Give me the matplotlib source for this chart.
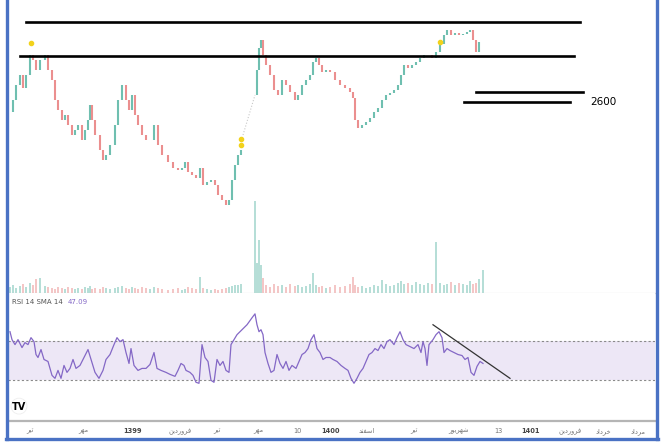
import matplotlib.pyplot as plt
from matplotlib.lines import Line2D
from matplotlib.patches import Circle

# time positions of the candles (chart time units) and closing prices
days_a = [10, 13, 16, 20, 23, 26, 30, 33, 36, 40, 45, 48, 52, 55, 58, 62, 65, 68, 72, 75,
          78, 82, 85, 88, 90, 92, 95, 100, 103, 106, 110, 115, 118, 122, 126, 129, 132, 135, 138, 142,
          146, 150, 154, 158, 162, 168, 173, 178, 182, 185, 188, 192, 196, 200, 203, 207, 211, 215, 218, 222,
          226, 229, 232, 235, 238, 241]
close_a = [2500, 2620, 2770, 2870, 2740, 2870, 3070, 3020, 2920, 3020, 3070, 2920, 2820, 2620, 2520, 2420, 2470, 2370, 2270, 2320,
           2370, 2220, 2320, 2420, 2570, 2420, 2270, 2120, 2020, 2070, 2170, 2370, 2620, 2770, 2620, 2520, 2670, 2470, 2370, 2270,
           2220, 2220, 2370, 2170, 2070, 2000, 1940, 1920, 1940, 2000, 1900, 1870, 1840, 1940, 1770, 1800, 1820, 1770, 1670, 1620,
           1570, 1620, 1820, 1970, 2070, 2120]
vol_a = [6, 8, 5, 7, 9, 6, 10, 8, 14, 15, 7, 6, 5, 4, 6, 5, 4, 6, 5, 4,
         5, 4, 6, 5, 7, 4, 5, 4, 6, 5, 4, 5, 6, 7, 5, 4, 6, 5, 4, 6,
         5, 4, 6, 5, 4, 3, 4, 5, 3, 4, 6, 5, 4, 16, 5, 4, 3, 4, 3, 4,
         5, 6, 7, 8, 8, 9]

days_b = [255, 257, 259, 261, 263, 266, 270, 274, 278, 282, 286, 290, 295, 298, 302, 306, 310, 313, 316, 319,
          322, 326, 330, 335, 340, 345, 350, 353, 355, 358, 362, 366, 370, 374, 378, 382, 386, 390, 394, 398,
          401, 404, 408, 412, 416, 420, 424, 428, 432, 436, 440, 444, 447, 451, 455, 459, 463, 467, 470, 473,
          476, 479, 483]
close_b = [2670, 2920, 3140, 3220, 3070, 2970, 2870, 2720, 2670, 2820, 2770, 2700, 2620, 2670, 2770, 2820, 2870, 3000, 3040, 2970,
           2900, 2920, 2900, 2820, 2770, 2740, 2700, 2640, 2420, 2340, 2370, 2400, 2440, 2500, 2540, 2620, 2670, 2690, 2720, 2770,
           2870, 2970, 2940, 2970, 3000, 3040, 3070, 3070, 3040, 3100, 3180, 3270, 3320, 3270, 3290, 3270, 3280, 3300, 3320, 3220,
           3100, 3200, 3200]
vol_b = [91, 30, 53, 28, 15, 8, 6, 9, 7, 8, 6, 9, 7, 8, 6, 7, 9, 20, 8, 6,
         7, 5, 6, 8, 6, 7, 9, 16, 8, 6, 7, 5, 6, 8, 7, 13, 9, 7, 8, 10,
         12, 9, 10, 8, 11, 9, 8, 10, 9, 51, 10, 8, 9, 11, 8, 10, 9, 8, 12, 9,
         10, 14, 23]

# RSI 14
rsi_days = [10, 12, 15, 18, 22, 25, 28, 31, 34, 36, 38, 41, 44, 48, 52, 55, 58, 61, 64, 67,
            70, 73, 76, 80, 84, 88, 91, 95, 99, 103, 106, 110, 114, 117, 120, 123, 126, 129, 131, 134,
            138, 142, 146, 150, 154, 157, 161, 166, 170, 175, 178, 181, 184, 186, 190, 193, 196, 199, 202, 205,
            208, 211, 214, 217, 220, 223, 226, 229, 231, 234, 237, 240, 247, 252, 255, 257, 259, 261, 263, 265,
            268, 271, 274, 277, 280, 283, 286, 289, 292, 296, 299, 302, 305, 308, 311, 314, 317, 320, 323, 326,
            330, 333, 337, 341, 345, 348, 351, 354, 357, 360, 363, 366, 369, 372, 375, 378, 381, 384, 387, 390,
            394, 397, 400, 403, 406, 410, 414, 418, 421, 423, 425, 427, 429, 433, 436, 439, 442, 444, 447, 450,
            454, 458, 462, 465, 468, 471, 474, 477, 480, 483]
rsi_vals = [79, 71, 66, 71, 63, 68, 66, 73, 69, 56, 53, 61, 51, 49, 35, 32, 40, 32, 45, 38,
            42, 51, 42, 45, 53, 61, 51, 38, 32, 40, 51, 56, 66, 73, 69, 71, 58, 47, 62, 45,
            40, 42, 42, 46, 58, 42, 40, 38, 36, 34, 40, 47, 45, 40, 38, 35, 28, 27, 66, 53,
            49, 30, 28, 51, 45, 49, 40, 38, 66, 71, 76, 79, 86, 93, 97, 86, 79, 81, 76, 58,
            47, 38, 40, 56, 47, 42, 49, 40, 45, 42, 49, 56, 58, 62, 71, 76, 62, 58, 51, 53,
            53, 51, 49, 45, 42, 40, 32, 27, 32, 38, 42, 49, 56, 58, 62, 60, 66, 62, 69, 71,
            66, 73, 79, 71, 66, 64, 62, 66, 58, 69, 62, 45, 66, 71, 76, 79, 73, 58, 62, 60,
            58, 56, 55, 51, 53, 38, 35, 44, 49, 47]

# drawn levels (price, start, end)
level_price = [3400, 3060, 2700, 2600]
level_start = [26, 20, 476, 464]
level_end = [580, 574, 583, 570]

marker_days = [31, 241, 241, 440]
marker_price = [3190, 2230, 2170, 3200]

tick_pos = [30, 83, 133, 180, 217, 258, 297, 331, 367, 414, 458, 498, 530, 570, 603, 638]
# Persian month names written in presentation forms (visual order) since matplotlib does no shaping
tick_labels = ['ﺮﯿﺗ', 'ﺮﻬﻣ', '1399', 'ﻦﯾﺩﺭﻭﺮﻓ', 'ﺮﯿﺗ', 'ﺮﻬﻣ', '10', '1400',
               'ﺪﻨﻔﺳﺍ', 'ﺮﯿﺗ', 'ﺭﻮﯾﺮﻬﺷ', '13', '1401', 'ﻦﯾﺩﺭﻭﺮﻓ', 'ﺩﺍﺩﺮﺧ', 'ﺩﺍﺩﺮﻣ']

up_col = '#6fbfb0'
down_col = '#eb8f8f'

W, H = 663, 445
fig = plt.figure(figsize=(W / 100, H / 100), dpi=100)
ax = fig.add_axes([8 / W, 1 - 293 / H, 647 / W, 293 / H])
vax = ax.twinx()
rax = fig.add_axes([8 / W, 24 / H, 647 / W, 128 / H])


def draw_candles(days, closes, vols):
    prev = closes[0]
    for d, c, v in zip(days, closes, vols):
        col = up_col if c >= prev else down_col
        ax.plot([d, d], [prev, c], color=col, lw=1.5, solid_capstyle='butt')
        vax.bar(d, v, width=1.6, color=col, alpha=0.5)
        prev = c


draw_candles(days_a, close_a, vol_a)
draw_candles(days_b, close_b, vol_b)
# gap in the data
ax.plot([days_a[-1] + 2, days_b[0]], [close_a[-1] + 150, close_b[0]], color='#c8c8c8', lw=0.8, ls=':')

for p, s, e in zip(level_price, level_start, level_end):
    ax.plot([s, e], [p, p], color='black', lw=1.9)
ax.text(590, level_price[3], '2600', fontsize=7.5, va='center', ha='left')
ax.scatter(marker_days, marker_price, s=9, color='#f2d21b', zorder=5)

ax.set_xlim(8, 655)
ax.set_ylim(690, 3620)
vax.set_ylim(0, max(vol_a + vol_b) * 3.2)
for a in (ax, vax):
    a.set_xticks([])
    a.set_yticks([])
    for side in ('top', 'left', 'right'):
        a.spines[side].set_visible(False)
    a.spines['bottom'].set_color('#dddddd')
    a.spines['bottom'].set_linewidth(0.8)

# RSI pane
rax.axhspan(30, 70, color='#ede7f6', lw=0)
rax.axhline(70, color='#8a8a8a', lw=0.8, ls=(0, (2, 2)))
rax.axhline(30, color='#8a8a8a', lw=0.8, ls=(0, (2, 2)))
rax.plot(rsi_days, rsi_vals, color='#8468c6', lw=0.9)
rax.plot([433, 510], [86, 32], color='#333333', lw=0.9)
rax.text(12, 109, 'RSI 14 SMA 14', fontsize=5, color='#555555', va='center')
rax.text(68, 109, '47.09', fontsize=5, color='#8468c6', va='center')
rax.add_patch(Circle((19, 4), 8, transform=rax.transData, facecolor='white',
                     edgecolor='#eeeeee', lw=0.6, zorder=4))
rax.text(19, 3, 'TV', fontsize=7, fontweight='bold', ha='center', va='center', zorder=5)
rax.set_xlim(8, 655)
rax.set_ylim(-11, 118)
rax.set_yticks([])
rax.set_xticks(tick_pos)
rax.set_xticklabels(tick_labels, fontsize=4.8, color='#777777')
for lbl in rax.get_xticklabels():
    if lbl.get_text() in ('1399', '1400', '1401'):
        lbl.set_fontweight('bold')
        lbl.set_color('#444444')
rax.tick_params(axis='x', length=0, pad=5)
for side in ('top', 'left', 'right'):
    rax.spines[side].set_visible(False)
rax.spines['bottom'].set_color('#b5b5b5')
rax.spines['bottom'].set_linewidth(1.6)

# blue photo frame
frame = '#4a72c4'
fig.add_artist(Line2D([6.5 / W, 6.5 / W], [6 / H, 1], color=frame, lw=2.4))
fig.add_artist(Line2D([656.5 / W, 656.5 / W], [6 / H, 1], color=frame, lw=2.4))
fig.add_artist(Line2D([5.5 / W, 657.5 / W], [6 / H, 6 / H], color=frame, lw=2.4))

fig.savefig('out.png', dpi=100)
